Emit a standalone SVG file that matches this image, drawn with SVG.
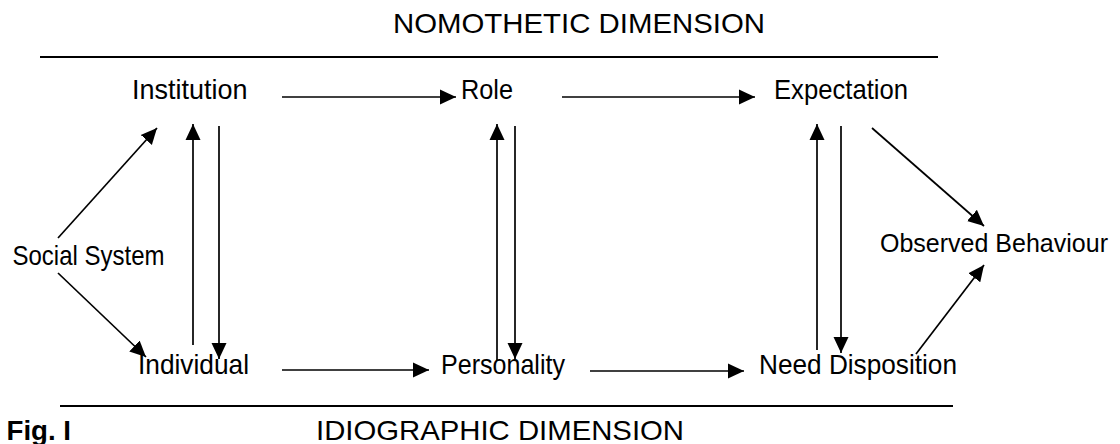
<svg xmlns="http://www.w3.org/2000/svg" width="1120" height="444" viewBox="0 0 1120 444">
<style>
text{font-family:"Liberation Sans",Arial,sans-serif;font-size:28px;fill:#000}
.b{font-weight:bold}
.c{stroke:#000;stroke-width:1.7;fill:none;marker-end:url(#ah)}
.rule{stroke:#000;stroke-width:2}
</style>
<defs>
<marker id="ah" markerUnits="userSpaceOnUse" markerWidth="17" markerHeight="17" refX="16" refY="8.5" orient="auto" viewBox="0 0 17 17">
<path d="M0,1 L16,8.5 L0,16 z" fill="#000"/>
</marker>
</defs>
<rect width="1120" height="444" fill="#fff"/>
<g id="rules">
<line class="rule" x1="40" y1="57" x2="938" y2="57"/>
<line class="rule" x1="60" y1="406" x2="953" y2="406"/>
</g>
<g id="titles">
<text x="393" y="33" textLength="372" lengthAdjust="spacingAndGlyphs">NOMOTHETIC DIMENSION</text>
<text x="316" y="440" textLength="368" lengthAdjust="spacingAndGlyphs">IDIOGRAPHIC DIMENSION</text>
<text class="b" x="6.5" y="440" textLength="64.5" lengthAdjust="spacingAndGlyphs">Fig. I</text>
</g>
<g id="institution"><text x="132" y="99" textLength="115.5" lengthAdjust="spacingAndGlyphs">Institution</text></g>
<g id="role"><text x="461" y="99" textLength="52" lengthAdjust="spacingAndGlyphs">Role</text></g>
<g id="expectation"><text x="774" y="99" textLength="134" lengthAdjust="spacingAndGlyphs">Expectation</text></g>
<g id="social-system"><text x="12.5" y="265" textLength="152" lengthAdjust="spacingAndGlyphs">Social System</text></g>
<g id="observed-behaviour"><text x="880" y="252" style="font-size:26.5px" textLength="228" lengthAdjust="spacingAndGlyphs">Observed Behaviour</text></g>
<g id="individual"><text x="138" y="374" textLength="111" lengthAdjust="spacingAndGlyphs">Individual</text></g>
<g id="personality"><text x="441" y="374" textLength="124" lengthAdjust="spacingAndGlyphs">Personality</text></g>
<g id="need-disposition"><text x="759" y="374" textLength="198" lengthAdjust="spacingAndGlyphs">Need Disposition</text></g>
<g id="connectors">
<line class="c" x1="282" y1="97" x2="456" y2="97"/>
<line class="c" x1="562" y1="97" x2="755" y2="97"/>
<line class="c" x1="282" y1="370" x2="429" y2="370"/>
<line class="c" x1="590" y1="371" x2="744" y2="371"/>
<line class="c" x1="58" y1="238" x2="157" y2="128"/>
<line class="c" x1="58" y1="273" x2="146" y2="357"/>
<line class="c" x1="193" y1="345" x2="193" y2="124"/>
<line class="c" x1="219" y1="126" x2="219" y2="359"/>
<line class="c" x1="497" y1="360" x2="497" y2="124"/>
<line class="c" x1="515" y1="126" x2="515" y2="359"/>
<line class="c" x1="817" y1="350" x2="817" y2="124"/>
<line class="c" x1="841" y1="126" x2="841" y2="353"/>
<line class="c" x1="872" y1="128" x2="984" y2="226"/>
<line class="c" x1="916" y1="354" x2="984" y2="265"/>
</g>
</svg>
